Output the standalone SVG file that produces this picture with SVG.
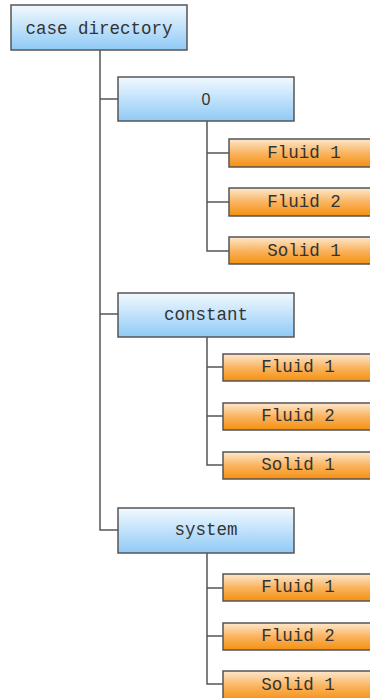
<svg xmlns="http://www.w3.org/2000/svg" width="370" height="698" viewBox="0 0 370 698">
<defs>
<linearGradient id="gb" x1="0" y1="0" x2="0" y2="1">
<stop offset="0" stop-color="#f2f9ff"/>
<stop offset="1" stop-color="#8fcaf6"/>
</linearGradient>
<linearGradient id="go" x1="0" y1="0" x2="0" y2="1">
<stop offset="0" stop-color="#fde8cc"/>
<stop offset="0.5" stop-color="#fab461"/>
<stop offset="1" stop-color="#f5900f"/>
</linearGradient>
<style>
.b{fill:url(#gb);stroke:#555;stroke-width:1.5}
.o{fill:url(#go);stroke:#555;stroke-width:1.5}
.t{font-family:"Liberation Mono","Courier New",monospace;font-size:17.5px;fill:#333;text-anchor:middle}
.s{font-family:"Liberation Sans",Arial,sans-serif;font-size:16px;fill:#333;text-anchor:middle}
.c{fill:none;stroke:#555;stroke-width:1.5}
</style>
</defs>
<rect width="370" height="698" fill="#fff"/>
<g id="connectors">
<path class="c" d="M100,50 V530 H118 M100,99 H118 M100,314 H118"/>
<path class="c" d="M207,121 V251 H229 M207,153 H229 M207,202 H229"/>
<path class="c" d="M207,337 V465 H223 M207,367 H223 M207,416 H223"/>
<path class="c" d="M207,553 V684 H223 M207,588 H223 M207,636 H223"/>
</g>
<g id="case-directory"><rect class="b" x="11" y="5" width="176" height="45"/><text class="t" x="99" y="33.5">case directory</text></g>
<g id="dir-0"><rect class="b" x="118" y="77" width="176" height="44"/><text class="s" x="206" y="105">0</text></g>
<g id="dir-0-fluid1"><rect class="o" x="229" y="139" width="150" height="28"/><text class="t" x="304" y="158">Fluid 1</text></g>
<g id="dir-0-fluid2"><rect class="o" x="229" y="188" width="150" height="28"/><text class="t" x="304" y="207">Fluid 2</text></g>
<g id="dir-0-solid1"><rect class="o" x="229" y="237" width="150" height="27"/><text class="t" x="304" y="256">Solid 1</text></g>
<g id="constant"><rect class="b" x="118" y="293" width="176" height="44"/><text class="t" x="206" y="320">constant</text></g>
<g id="constant-fluid1"><rect class="o" x="223" y="354" width="150" height="27"/><text class="t" x="298" y="372">Fluid 1</text></g>
<g id="constant-fluid2"><rect class="o" x="223" y="403" width="150" height="27"/><text class="t" x="298" y="421">Fluid 2</text></g>
<g id="constant-solid1"><rect class="o" x="223" y="452" width="150" height="27"/><text class="t" x="298" y="470">Solid 1</text></g>
<g id="system"><rect class="b" x="118" y="508" width="176" height="45"/><text class="t" x="206" y="535">system</text></g>
<g id="system-fluid1"><rect class="o" x="223" y="574" width="150" height="27"/><text class="t" x="298" y="592">Fluid 1</text></g>
<g id="system-fluid2"><rect class="o" x="223" y="623" width="150" height="27"/><text class="t" x="298" y="641">Fluid 2</text></g>
<g id="system-solid1"><rect class="o" x="223" y="671" width="150" height="30"/><text class="t" x="298" y="690">Solid 1</text></g>
</svg>
